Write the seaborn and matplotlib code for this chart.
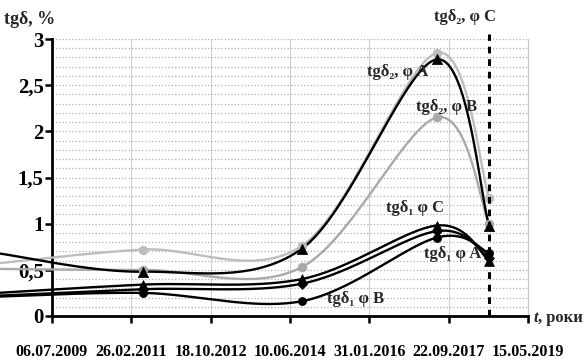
import matplotlib
matplotlib.use("Agg")
import matplotlib.pyplot as plt
import matplotlib.dates as mdates
import numpy as np
import pandas as pd
import seaborn as sns

# measurement dates (first one lies left of the axis, Excel clips it)
dates = ["2008-05-20", "2011-05-24", "2014-09-09", "2017-06-26", "2018-07-25"]

# tg delta 2
tg2_A = [0.68, 0.48, 0.73, 2.78, 0.98]
tg2_B = [0.51, 0.50, 0.53, 2.15, 1.00]
tg2_C = [0.57, 0.72, 0.76, 2.85, 1.28]
# tg delta 1
tg1_A = [0.22, 0.29, 0.35, 0.92, 0.63]
tg1_B = [0.21, 0.25, 0.16, 0.85, 0.68]
tg1_C = [0.25, 0.34, 0.40, 0.98, 0.60]

tick_dates = ["2009-07-06", "2011-02-26", "2012-10-18", "2014-06-10",
              "2016-01-31", "2017-09-22", "2019-05-15"]
tick_labels = ["06.07.2009", "26.02.2011", "18.10.2012", "10.06.2014",
               "31.01.2016", "22.09.2017", "15.05.2019"]
y_ticks = [0, 0.5, 1, 1.5, 2, 2.5, 3]
y_labels = ["0", "0,5", "1", "1,5", "2", "2,5", "3"]

sns.set_theme(style="white")
plt.rcParams["font.family"] = ["Liberation Serif", "DejaVu Serif"]
plt.rcParams["font.weight"] = "bold"

xd = mdates.date2num(pd.to_datetime(dates))
xt = mdates.date2num(pd.to_datetime(tick_dates))

fig = plt.figure(figsize=(5.84, 3.63), dpi=100)
ax = fig.add_axes([0.089, 0.1295, 0.815, 0.763])
ax.set_xlim(xt[0], xt[-1])
ax.set_ylim(0, 3)

# pixel scale, so the smoothing behaves like Excel's (done in screen space)
sx = 476 / (xt[-1] - xt[0])
sy = 277 / 3.0


def smooth(x, y, n=40):
    P = np.column_stack([(np.asarray(x) - xt[0]) * sx, np.asarray(y) * sy])
    out = []
    t = np.linspace(0, 1, n)[:, None]
    for i in range(len(P) - 1):
        p0 = P[i - 1] if i > 0 else P[i]
        p1, p2 = P[i], P[i + 1]
        p3 = P[i + 2] if i + 2 < len(P) else P[i + 1]
        c1 = p1 + (p2 - p0) / 6
        c2 = p2 - (p3 - p1) / 6
        seg = (1 - t) ** 3 * p1 + 3 * (1 - t) ** 2 * t * c1 + 3 * (1 - t) * t ** 2 * c2 + t ** 3 * p2
        out.append(seg if i == 0 else seg[1:])
    S = np.vstack(out)
    return S[:, 0] / sx + xt[0], S[:, 1] / sy


series = [
    (tg2_B, "#a9a9a9", "o", 40),
    (tg2_C, "#bdbdbd", "o", 40),
    (tg2_A, "black", "^", 55),
    (tg1_B, "black", "o", 34),
    (tg1_A, "black", "D", 26),
    (tg1_C, "black", "^", 50),
]

for vals, col, mk, sz in series:
    cx, cy = smooth(xd, vals)
    sns.lineplot(x=cx, y=cy, sort=False, estimator=None, color=col, lw=1.7,
                 ax=ax, clip_on=False, zorder=3)
    sns.scatterplot(x=xd[1:], y=vals[1:], marker=mk, s=sz, color=col,
                    edgecolor=col, linewidth=0.5, ax=ax, zorder=4, clip_on=False)

# dashed line at the last measurement
ax.vlines(xd[-1], 0, 3.05, colors="black", linestyles=(0, (2.2, 1.9)), lw=2.2,
          clip_on=False, zorder=5)

# grid
ax.set_yticks(np.arange(0, 3.01, 0.1), minor=True)
ax.grid(which="minor", axis="y", ls=":", color="#b0b0b0", lw=0.9)
ax.grid(which="major", axis="y", ls=":", color="#b0b0b0", lw=0.9)
ax.grid(which="major", axis="x", ls="-", color="#d0d0d0", lw=0.8)
ax.set_axisbelow(True)

ax.set_xticks(xt, labels=tick_labels)
ax.set_yticks(y_ticks, labels=y_labels)
ax.tick_params(axis="x", which="major", direction="out", length=5, width=1.8,
               pad=15, labelsize=11.5, bottom=True, colors="black")
ax.tick_params(axis="y", which="major", direction="out", length=5, width=1.8,
               pad=1, labelsize=15, left=True, colors="black")
ax.tick_params(axis="y", which="minor", length=0)
for lab in ax.get_xticklabels() + ax.get_yticklabels():
    lab.set_fontweight("bold")

for s in ["left", "bottom"]:
    ax.spines[s].set_color("black")
    ax.spines[s].set_linewidth(2)
ax.spines["top"].set_visible(False)
ax.spines["right"].set_color("#c8c8c8")
ax.spines["right"].set_linewidth(0.8)
ax.set_xlabel("")
ax.set_ylabel("")

# curve labels
lab_kw = dict(fontsize=12, fontweight="bold", ha="center", va="center",
              clip_on=False, zorder=6)
lx = lambda px: xt[0] + (px - 52) / sx
ly = lambda py: (316 - py) / sy
ax.text(lx(465), ly(17), "tgδ₂, φ C", **lab_kw)
ax.text(lx(398), ly(72), "tgδ₂, φ A", **lab_kw)
ax.text(lx(447), ly(107), "tgδ₂, φ B", **lab_kw)
ax.text(lx(415), ly(208), "tgδ₁ φ C", **lab_kw)
ax.text(lx(453), ly(254), "tgδ₁ φ A", **lab_kw)
ax.text(lx(356), ly(299), "tgδ₁ φ B", **lab_kw)

# axis titles
fig.text(30 / 584, 1 - 20 / 363, "tgδ, %", fontsize=13, fontweight="bold",
         ha="center", va="center")
fig.text(533 / 584, 1 - 318 / 363, "t", fontsize=12, fontweight="bold",
         style="italic", ha="left", va="center")
fig.text(537.5 / 584, 1 - 318 / 363, ", роки", fontsize=12, fontweight="bold",
         ha="left", va="center")

fig.savefig("out.png", dpi=100)
